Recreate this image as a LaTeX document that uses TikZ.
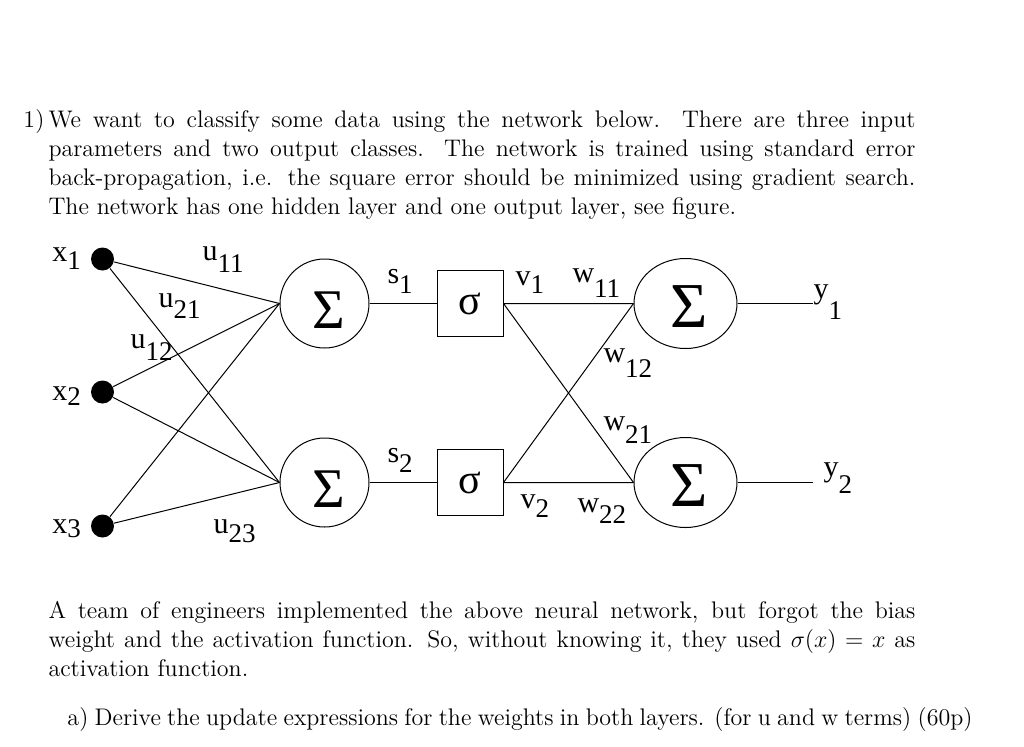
\documentclass[tikz,border=0pt]{standalone}
\usepackage{fontspec}
\usepackage{amsmath}
\usetikzlibrary{shapes.geometric,positioning,calc}
\newfontfamily\lblfont{Liberation Serif}
% weight label with lowered index
\newcommand\wt[3][5pt]{#2\raisebox{-#1}{\fontsize{13.5}{14}\selectfont #3}}

\begin{document}
\begin{tikzpicture}[x=0.5pt,y=-0.5pt,line width=0.5pt,
    para/.style={anchor=base west, inner sep=0, text width=433.5pt, align=justify,
                 font=\fontsize{12}{14.65}\selectfont},
    lbl/.style={anchor=base west, inner sep=0, font=\lblfont\fontsize{15}{16}\selectfont},
    inpdot/.style={circle, fill=black, minimum size=11.5pt, inner sep=0},
    sumnode/.style={circle, draw, minimum size=44.5pt, inner sep=0,
                    label={[font=\lblfont\fontsize{28}{28}\selectfont, xshift=2pt, yshift=-3.5pt]center:Σ}},
    outnode/.style={ellipse, draw, minimum width=51.5pt, minimum height=45pt, inner sep=0,
                    label={[font=\lblfont\fontsize{32}{32}\selectfont, xshift=2pt, yshift=-1.5pt]center:Σ}},
    sigbox/.style={draw, minimum size=33pt, inner sep=0, font=\lblfont\fontsize{21}{21}\selectfont}]
  \useasboundingbox (0,0) rectangle (1024,746);

  % question text
  \node[anchor=base west, inner sep=0, font=\fontsize{12}{14.65}\selectfont] (num) at (23,127) {1)};
  \node[para] (q1) at (48,127) {We want to classify some data using the network below.  There are three input\linebreak
    parameters and two output classes.  The network is trained using standard error\linebreak
    back-propagation, i.e. the square error should be minimized using gradient search.\linebreak
    The network has one hidden layer and one output layer, see figure.};

  % network
  \node[inpdot] (x1) at (102.5,259) {};
  \node[inpdot] (x2) at (102.5,392) {};
  \node[inpdot] (x3) at (102.5,526) {};
  \node[sumnode] (sA) at (324.5,303.5) {};
  \node[sumnode] (sB) at (324.5,482.5) {};
  \node[sigbox] (gA) at (470,303.5) {σ};
  \node[sigbox] (gB) at (470,482.5) {σ};
  \node[outnode] (oA) at (685.5,303.5) {};
  \node[outnode] (oB) at (685.5,482.5) {};
  \coordinate (y1end) at (813,303.5);
  \coordinate (y2end) at (813,482.5);

  \foreach \i in {1,2,3} {
    \draw (x\i) -- (sA.west);
    \draw (x\i) -- (sB.west);
  }
  \draw (sA) -- (gA);
  \draw (sB) -- (gB);
  \draw (gA.east) -- (oA.west) (gA.east) -- (oB.west);
  \draw (gB.east) -- (oA.west) (gB.east) -- (oB.west);
  \draw (oA) -- (y1end);
  \draw (oB) -- (y2end);

  % labels
  \node[lbl] (lx1) at (52,261) {\wt[4pt]{x}{1}};
  \node[lbl] (lx2) at (52,400) {\wt[2.5pt]{x}{2}};
  \node[lbl] (lx3) at (52,533) {\wt[2pt]{x}{3}};
  \node[lbl] (lu11) at (202,260) {\wt[6pt]{u}{11}};
  \node[lbl] (lu21) at (158,307) {\wt[5.5pt]{u}{21}};
  \node[lbl] (lu12) at (130,348) {\wt[6pt]{u}{12}};
  \node[lbl] (lu23) at (213,533) {\wt[4.5pt]{u}{23}};
  \node[lbl] (ls1) at (387,283) {\wt{s}{1}};
  \node[lbl] (ls2) at (387,462) {\wt{s}{2}};
  \node[lbl] (lv1) at (515,285) {\wt[4pt]{v}{1}};
  \node[lbl] (lv2) at (520,508) {\wt[4.5pt]{v}{2}};
  \node[lbl] (lw11) at (572,282) {\wt[7.5pt]{w}{11}};
  \node[lbl] (lw12) at (603,362) {\wt[7.5pt]{w}{12}};
  \node[lbl] (lw21) at (603,430) {\wt[6.5pt]{w}{21}};
  \node[lbl] (lw22) at (577,512) {\wt[5.5pt]{w}{22}};
  \node[lbl] (ly1) at (813,298) {\wt[10.5pt]{y}{1}};
  \node[lbl] (ly2) at (823,476) {\wt[8.5pt]{y}{2}};

  % second part
  \node[para] (q2) at (48,618) {A team of engineers implemented the above neural network, but forgot the bias\linebreak
    weight and the activation function. So, without knowing it, they used $\sigma(x) = x$ as\linebreak
    activation function.};
  \node[anchor=base west, inner sep=0, font=\fontsize{12}{14.65}\selectfont] (qa) at (67,725)
    {\makebox[452.5pt][s]{a) Derive the update expressions for the weights in both layers. (for u and w terms) (60p)}};
\end{tikzpicture}
\end{document}
